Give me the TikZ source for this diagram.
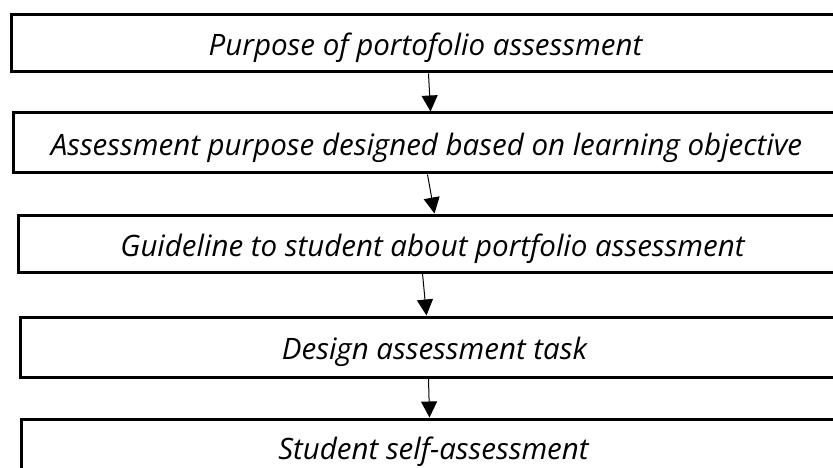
\documentclass[tikz,border=0pt]{standalone}
\usepackage{fontspec}
\setmainfont{Open Sans}
\usetikzlibrary{arrows.meta}

\tikzset{
  stagebox/.style={draw, line width=3pt, anchor=west, inner sep=0pt,
    text height=25pt, text depth=0pt,
    font=\fontsize{29.5}{32}\selectfont\itshape},
  flow/.style={line width=1pt, -{Triangle[width=16pt,length=16pt]}}
}

\begin{document}
\begin{tikzpicture}[x=1pt,y=-1pt]
  \useasboundingbox (0,0) rectangle (833,468);
  \clip (0,0) rectangle (833,468);

  % stages of the portfolio assessment
  \node[stagebox, minimum width=828pt, minimum height=57pt] (purpose) at (10,43.5)
    {Purpose of portofolio assessment};
  \node[stagebox, minimum width=826pt, minimum height=60pt] (objective) at (12,143)
    {Assessment purpose designed based on learning objective};
  \node[stagebox, minimum width=828pt, minimum height=57pt] (guideline) at (17,243.5)
    {Guideline to student about portfolio assessment};
  \node[stagebox, minimum width=828pt, minimum height=60pt] (task) at (19,347)
    {Design assessment task};
  \node[stagebox, minimum width=824pt, minimum height=55pt] (selfassess) at (20,446.5)
    {Student self-assessment};

  \draw[flow] ([xshift=3pt]purpose.south) -- ([xshift=4pt]objective.north);
  \draw[flow] ([xshift=1pt]objective.south) -- ([xshift=2pt]guideline.north);
  \draw[flow] ([xshift=-10pt]guideline.south) -- ([xshift=-8pt]task.north);
  \draw[flow] ([xshift=-6pt]task.south) -- ([xshift=-4pt]selfassess.north);
\end{tikzpicture}
\end{document}
